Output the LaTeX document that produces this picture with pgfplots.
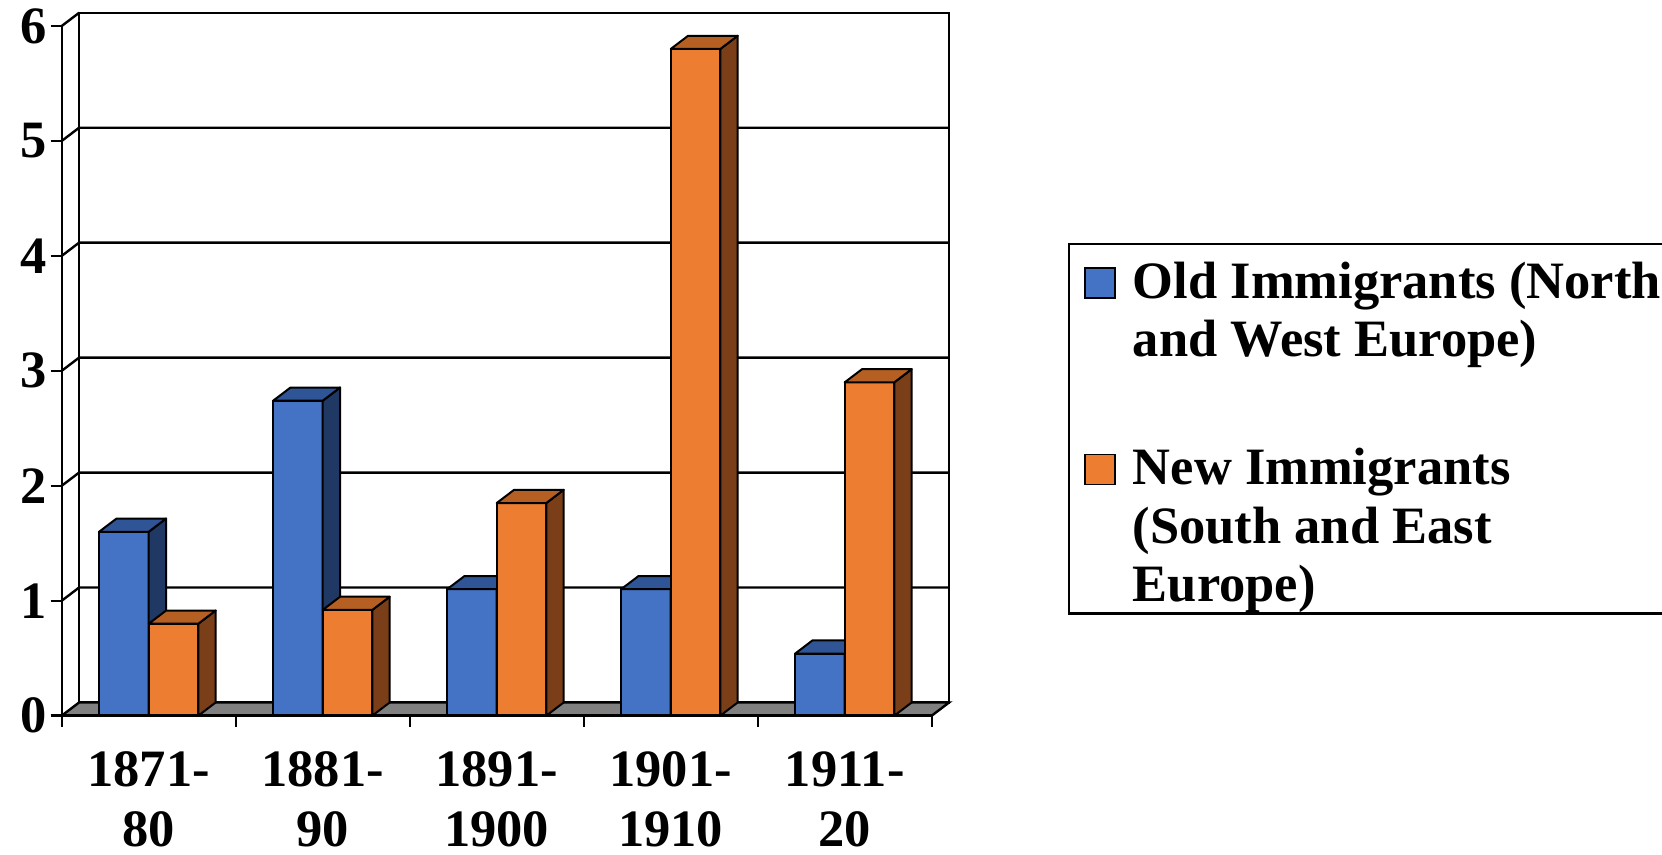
\documentclass[border=0pt]{standalone}
\usepackage{fontspec}
\setmainfont{Liberation Serif}
\usepackage{pgfplots}
\pgfplotsset{compat=1.18}
\definecolor{bfront}{HTML}{4472C4}
\definecolor{btop}{HTML}{2F5597}
\definecolor{bside}{HTML}{203864}
\definecolor{ofront}{HTML}{ED7D31}
\definecolor{otop}{HTML}{B65F23}
\definecolor{oside}{HTML}{7A3E18}
\definecolor{floorgray}{HTML}{808080}
\begin{document}
\begin{tikzpicture}
\begin{axis}[
  name=ax,
  scale only axis, width=435pt, height=344.85pt,
  xmin=-0.5, xmax=4.5, ymin=0, ymax=6,
  clip=false,
  axis lines=left,
  axis line style={-, line width=1.2pt},
  axis on top,
  xtick={-0.5,0.5,1.5,2.5,3.5,4.5},
  x tick label as interval,
  xticklabels={{1871-\\80},{1881-\\90},{1891-\\1900},{1901-\\1910},{1911-\\20}},
  ytick={0,1,2,3,4,5,6},
  tick align=outside,
  major tick length=5.5pt,
  tick style={line width=1.2pt, black},
  /pgf/number format/assume math mode=true,
  ticklabel style={font=\bfseries\fontsize{26.25}{30}\selectfont},
  xticklabel style={align=center, anchor=north, inner sep=0pt, yshift=-12.3pt},
  yticklabel style={anchor=east, inner sep=0pt, xshift=-2pt},
  legend style={at={(1.1567,0.6854)}, anchor=north west, draw=black, line width=1.2pt,
    inner xsep=7.5pt, inner ysep=4.5pt, row sep=42.5pt, column sep=8.5pt,
    font=\bfseries\fontsize{26.25}{29.25}\selectfont, nodes={inner sep=0pt}, cells={anchor=base west}},
  face/.style={draw=black, line width=1pt, line join=round, forget plot},
  sq/.style={legend image code/.code={\draw[##1, draw=black, line width=0.8pt] (0pt,#1) rectangle (15pt,#1+15pt);}},
]
% back wall
\addplot[fill=white, draw=black, line width=1.2pt, forget plot] coordinates {(-0.4,0.115) (4.6,0.115) (4.6,6.115) (-0.4,6.115)} -- cycle;
% grid lines on wall
\addplot[black, line width=1.2pt, forget plot] coordinates {(-0.5,1) (-0.4,1.115) (4.6,1.115)};
\addplot[black, line width=1.2pt, forget plot] coordinates {(-0.5,2) (-0.4,2.115) (4.6,2.115)};
\addplot[black, line width=1.2pt, forget plot] coordinates {(-0.5,3) (-0.4,3.115) (4.6,3.115)};
\addplot[black, line width=1.2pt, forget plot] coordinates {(-0.5,4) (-0.4,4.115) (4.6,4.115)};
\addplot[black, line width=1.2pt, forget plot] coordinates {(-0.5,5) (-0.4,5.115) (4.6,5.115)};
\addplot[black, line width=1.2pt, forget plot] coordinates {(-0.5,6) (-0.4,6.115)};
% floor
\addplot[fill=floorgray, draw=black, line width=1.2pt, forget plot] coordinates {(-0.5,0) (4.5,0) (4.6,0.115) (-0.4,0.115)} -- cycle;
% Old immigrants: front faces
\addplot[ybar, bar width=0.285, bar shift=-0.1425, fill=bfront, draw=black, line width=1pt, sq=29.25pt]
  coordinates {(0,1.6) (1,2.74) (2,1.1) (3,1.1) (4,0.54)};
\addlegendentry{\raisebox{0pt}[\height][0pt]{\parbox[b]{300pt}{\raggedright\rule{0pt}{22.5pt}Old Immigrants (North\\and West Europe)}}}
% side faces
\addplot[face, fill=bside] coordinates {(0,0) (0.1,0.115) (0.1,1.715) (0,1.6)} -- cycle;
\addplot[face, fill=bside] coordinates {(1,0) (1.1,0.115) (1.1,2.855) (1,2.74)} -- cycle;
\addplot[face, fill=bside] coordinates {(2,0) (2.1,0.115) (2.1,1.215) (2,1.1)} -- cycle;
\addplot[face, fill=bside] coordinates {(3,0) (3.1,0.115) (3.1,1.215) (3,1.1)} -- cycle;
\addplot[face, fill=bside] coordinates {(4,0) (4.1,0.115) (4.1,0.655) (4,0.54)} -- cycle;
% top faces
\addplot[face, fill=btop] coordinates {(-0.285,1.6) (-0.185,1.715) (0.1,1.715) (0,1.6)} -- cycle;
\addplot[face, fill=btop] coordinates {(0.715,2.74) (0.815,2.855) (1.1,2.855) (1,2.74)} -- cycle;
\addplot[face, fill=btop] coordinates {(1.715,1.1) (1.815,1.215) (2.1,1.215) (2,1.1)} -- cycle;
\addplot[face, fill=btop] coordinates {(2.715,1.1) (2.815,1.215) (3.1,1.215) (3,1.1)} -- cycle;
\addplot[face, fill=btop] coordinates {(3.715,0.54) (3.815,0.655) (4.1,0.655) (4,0.54)} -- cycle;
% New immigrants: front faces
\addplot[ybar, bar width=0.285, bar shift=0.1425, fill=ofront, draw=black, line width=1pt, sq=58.5pt]
  coordinates {(0,0.8) (1,0.92) (2,1.85) (3,5.8) (4,2.9)};
\addlegendentry{\raisebox{0pt}[\height][0pt]{\parbox[b]{300pt}{\raggedright\rule{0pt}{20pt}New Immigrants\\(South and East\\Europe)}}}
% side faces
\addplot[face, fill=oside] coordinates {(0.285,0) (0.385,0.115) (0.385,0.915) (0.285,0.8)} -- cycle;
\addplot[face, fill=oside] coordinates {(1.285,0) (1.385,0.115) (1.385,1.035) (1.285,0.92)} -- cycle;
\addplot[face, fill=oside] coordinates {(2.285,0) (2.385,0.115) (2.385,1.965) (2.285,1.85)} -- cycle;
\addplot[face, fill=oside] coordinates {(3.285,0) (3.385,0.115) (3.385,5.915) (3.285,5.8)} -- cycle;
\addplot[face, fill=oside] coordinates {(4.285,0) (4.385,0.115) (4.385,3.015) (4.285,2.9)} -- cycle;
% top faces
\addplot[face, fill=otop] coordinates {(0,0.8) (0.1,0.915) (0.385,0.915) (0.285,0.8)} -- cycle;
\addplot[face, fill=otop] coordinates {(1,0.92) (1.1,1.035) (1.385,1.035) (1.285,0.92)} -- cycle;
\addplot[face, fill=otop] coordinates {(2,1.85) (2.1,1.965) (2.385,1.965) (2.285,1.85)} -- cycle;
\addplot[face, fill=otop] coordinates {(3,5.8) (3.1,5.915) (3.385,5.915) (3.285,5.8)} -- cycle;
\addplot[face, fill=otop] coordinates {(4,2.9) (4.1,3.015) (4.385,3.015) (4.285,2.9)} -- cycle;
\end{axis}
\pgfresetboundingbox
\path[use as bounding box] ([shift={(-30.85pt,-69.65pt)}]ax.south west) rectangle ([shift={(800.15pt,357.85pt)}]ax.south west);
\end{tikzpicture}
\end{document}
